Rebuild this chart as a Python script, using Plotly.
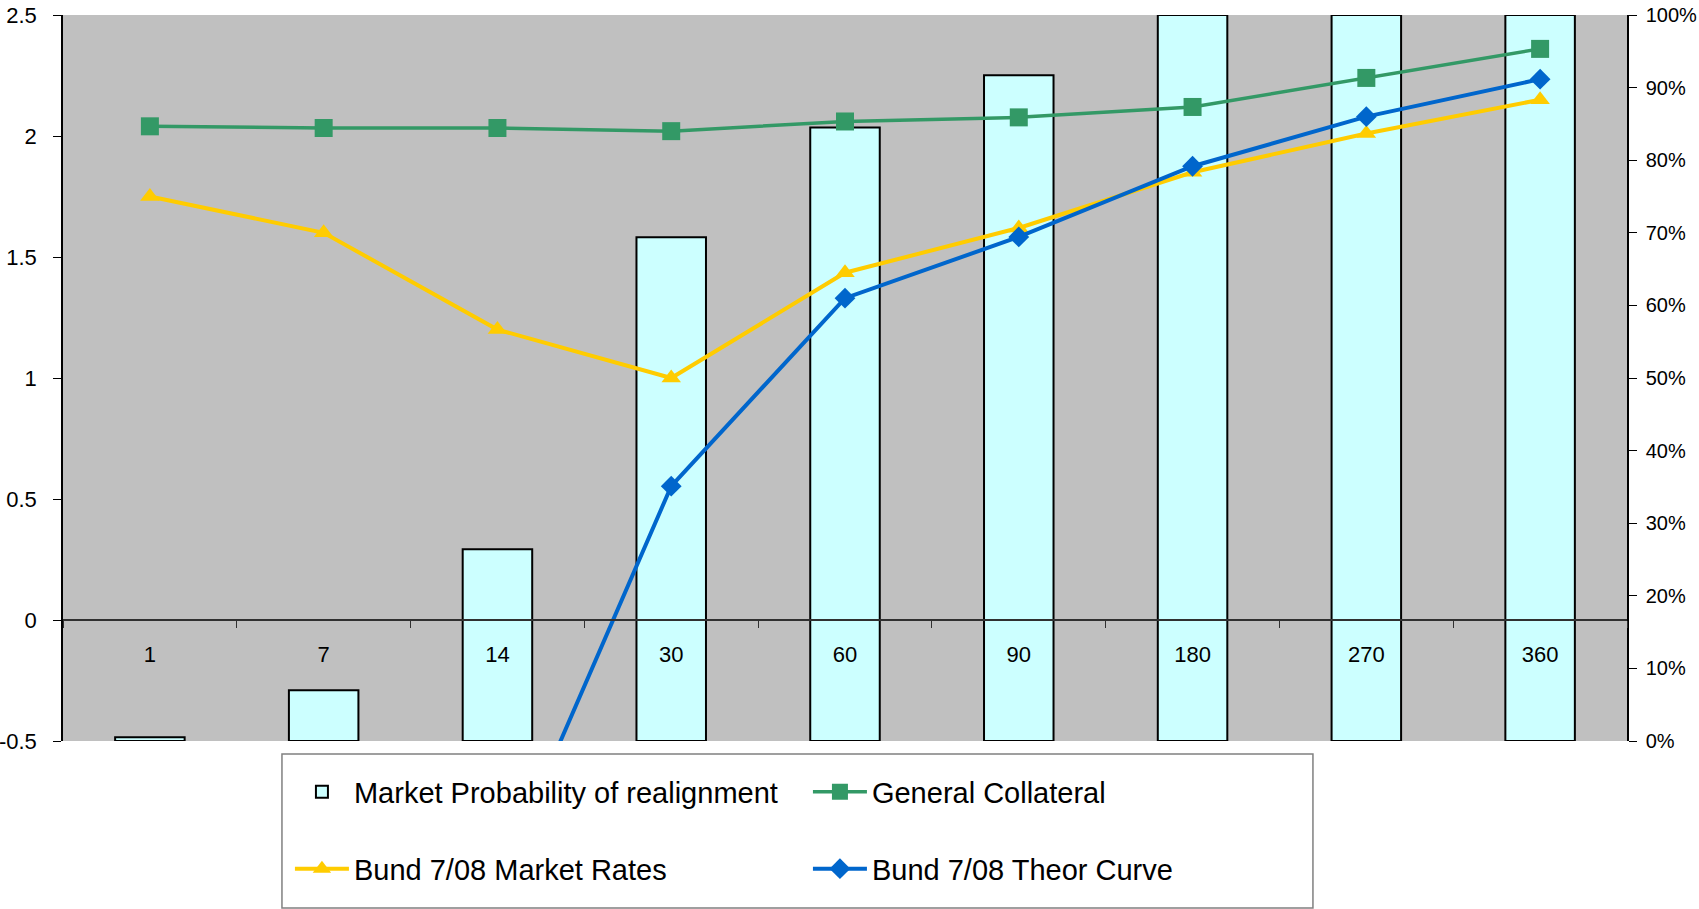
import plotly.graph_objects as go

# ---- data ----
days = ["1", "7", "14", "30", "60", "90", "180", "270", "360"]
prob_realign = [0.5, 7.0, 26.4, 69.4, 84.5, 91.7, 100, 100, 100]          # % (right axis)
general_collateral = [2.04, 2.033, 2.033, 2.02, 2.06, 2.077, 2.12, 2.24, 2.36]
bund_market = [1.75, 1.60, 1.20, 1.00, 1.435, 1.62, 1.85, 2.01, 2.15]
bund_theor = [None, None, -1.10, 0.553, 1.33, 1.583, 1.875, 2.08, 2.235]

left_ticks = [-0.5, 0, 0.5, 1, 1.5, 2, 2.5]
left_labels = ["-0.5", "0", "0.5", "1", "1.5", "2", "2.5"]
right_ticks = [0, 10, 20, 30, 40, 50, 60, 70, 80, 90, 100]
right_labels = ["0%", "10%", "20%", "30%", "40%", "50%", "60%", "70%", "80%", "90%", "100%"]

FONT = "Liberation Sans, Arial, sans-serif"

fig = go.Figure()

fig.add_trace(go.Bar(
    x=days, y=prob_realign, name="Market Probability of realignment",
    xaxis="x", yaxis="y", width=0.4,
    marker=dict(color="#CCFFFF", line=dict(color="black", width=2)),
    legend="legend",
))
fig.add_trace(go.Scatter(
    x=days, y=general_collateral, name="General Collateral",
    xaxis="x", yaxis="y2", mode="lines+markers",
    line=dict(color="#339966", width=3.5),
    marker=dict(symbol="square", size=18, color="#339966"),
    legend="legend",
))
fig.add_trace(go.Scatter(
    x=days, y=bund_market, name="Bund 7/08 Market Rates",
    xaxis="x", yaxis="y2", mode="lines+markers",
    line=dict(color="#FFCC00", width=4),
    marker=dict(symbol="triangle-up", size=17, color="#FFCC00"),
    legend="legend2",
))
fig.add_trace(go.Scatter(
    x=days, y=bund_theor, name="Bund 7/08 Theor Curve",
    xaxis="x", yaxis="y2", mode="lines+markers",
    line=dict(color="#0066CC", width=4),
    marker=dict(symbol="diamond", size=16, color="#0066CC"),
    legend="legend2",
))

legend_common = dict(
    orientation="h", x=0.1451, xanchor="left", yanchor="middle",
    entrywidth=449, itemwidth=54, bgcolor="rgba(0,0,0,0)", borderwidth=0,
    font=dict(family=FONT, size=29, color="black"), traceorder="normal",
)

fig.update_layout(
    width=1699, height=909,
    margin=dict(l=63, r=72, t=15, b=168, autoexpand=False),
    paper_bgcolor="white", plot_bgcolor="#C0C0C0",
    font=dict(family=FONT, size=22, color="black"),
    showlegend=True,
    legend=dict(legend_common, y=-0.0702),
    legend2=dict(legend_common, y=-0.176),
    xaxis=dict(
        type="category", anchor="free", position=0.5 / 3.0,
        range=[-0.5, 8.5], showline=True, linecolor="#303030", linewidth=1.5,
        ticks="outside", ticklen=7, tickcolor="#303030", tickwidth=1,
        tickson="boundaries", ticklabelstandoff=15,
        showgrid=False, zeroline=False, automargin=False,
    ),
    xaxis2=dict(
        overlaying="x", anchor="y", range=[-0.5, 8.5],
        showline=True, mirror=True, linecolor="#808080", linewidth=2,
        showticklabels=False, ticks="", showgrid=False, zeroline=False,
    ),
    yaxis=dict(
        side="right", range=[0, 100], tickvals=right_ticks, ticktext=right_labels,
        showline=True, linecolor="black", linewidth=1.5,
        ticks="outside", ticklen=8, tickcolor="black", tickfont=dict(size=20),
        ticklabelstandoff=5, showgrid=False, zeroline=False, automargin=False,
    ),
    yaxis2=dict(
        side="left", overlaying="y", range=[-0.5, 2.5],
        tickvals=left_ticks, ticktext=left_labels,
        showline=True, linecolor="black", linewidth=1.5,
        ticks="outside", ticklen=8, tickcolor="black",
        ticklabelstandoff=12, showgrid=False, zeroline=False, automargin=False,
    ),
    shapes=[dict(
        type="rect", xref="paper", yref="paper",
        x0=0.140, x1=0.7992, y0=-0.0179, y1=-0.230,
        line=dict(color="#808080", width=1.5), fillcolor="rgba(0,0,0,0)",
    )],
)

fig.write_html("out.html")
